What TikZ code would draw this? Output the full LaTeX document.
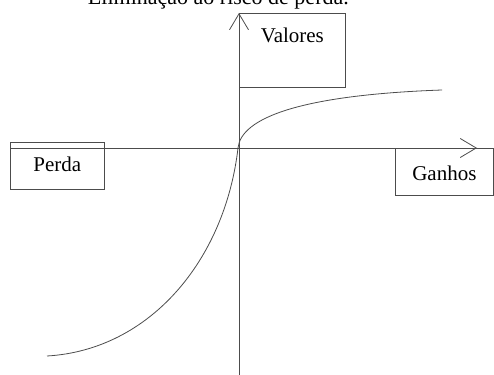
\documentclass[tikz,border=0pt]{standalone}
\usepackage{fontspec}
\setmainfont{Liberation Serif}
\usetikzlibrary{arrows.meta}
\begin{document}
\begin{tikzpicture}[x=1pt,y=-1pt,
  ln/.style={line width=0.8pt,draw=black!70},
  boxed/.style={ln,rectangle,inner sep=0pt,font=\fontsize{21}{25}\selectfont},
  axarrow/.style={ln,-{Straight Barb[length=16pt,width=19pt,line width=0.8pt]}}]
\useasboundingbox (0,0) rectangle (494,374);
\clip (0,0) rectangle (494,374);
% cut-off caption at top
\node[anchor=base east,inner sep=0pt,font=\fontsize{22}{26}\selectfont] (cap) at (349,5) {Eliminação ao risco de perda.};
% axes
\coordinate (xs) at (10,148);
\coordinate (xe) at (477,148);
\coordinate (ys) at (239,375);
\coordinate (ye) at (239,13);
\coordinate (o) at (238,148);
\draw[axarrow] (xs) -- (xe);
\draw[axarrow] (ys) -- (ye);
% boxes
\node[boxed,draw,anchor=north west,minimum width=106pt,text height=29pt,text depth=45pt] (val) at (239,13) {Valores};
\node[boxed,draw,anchor=north west,minimum width=94pt,text height=29pt,text depth=18pt] (perda) at (10,142) {Perda};
\node[boxed,draw,anchor=north west,minimum width=98pt,text height=32pt,text depth=15pt] (ganhos) at (395,148) {Ganhos};
% value curve
\coordinate (ge) at (442,90);
\coordinate (le) at (47,356);
\draw[ln] (o) .. controls (241,118) and (300,95) .. (ge);
\draw[ln] (o) .. controls (225,260) and (150,350) .. (le);
\end{tikzpicture}
\end{document}
